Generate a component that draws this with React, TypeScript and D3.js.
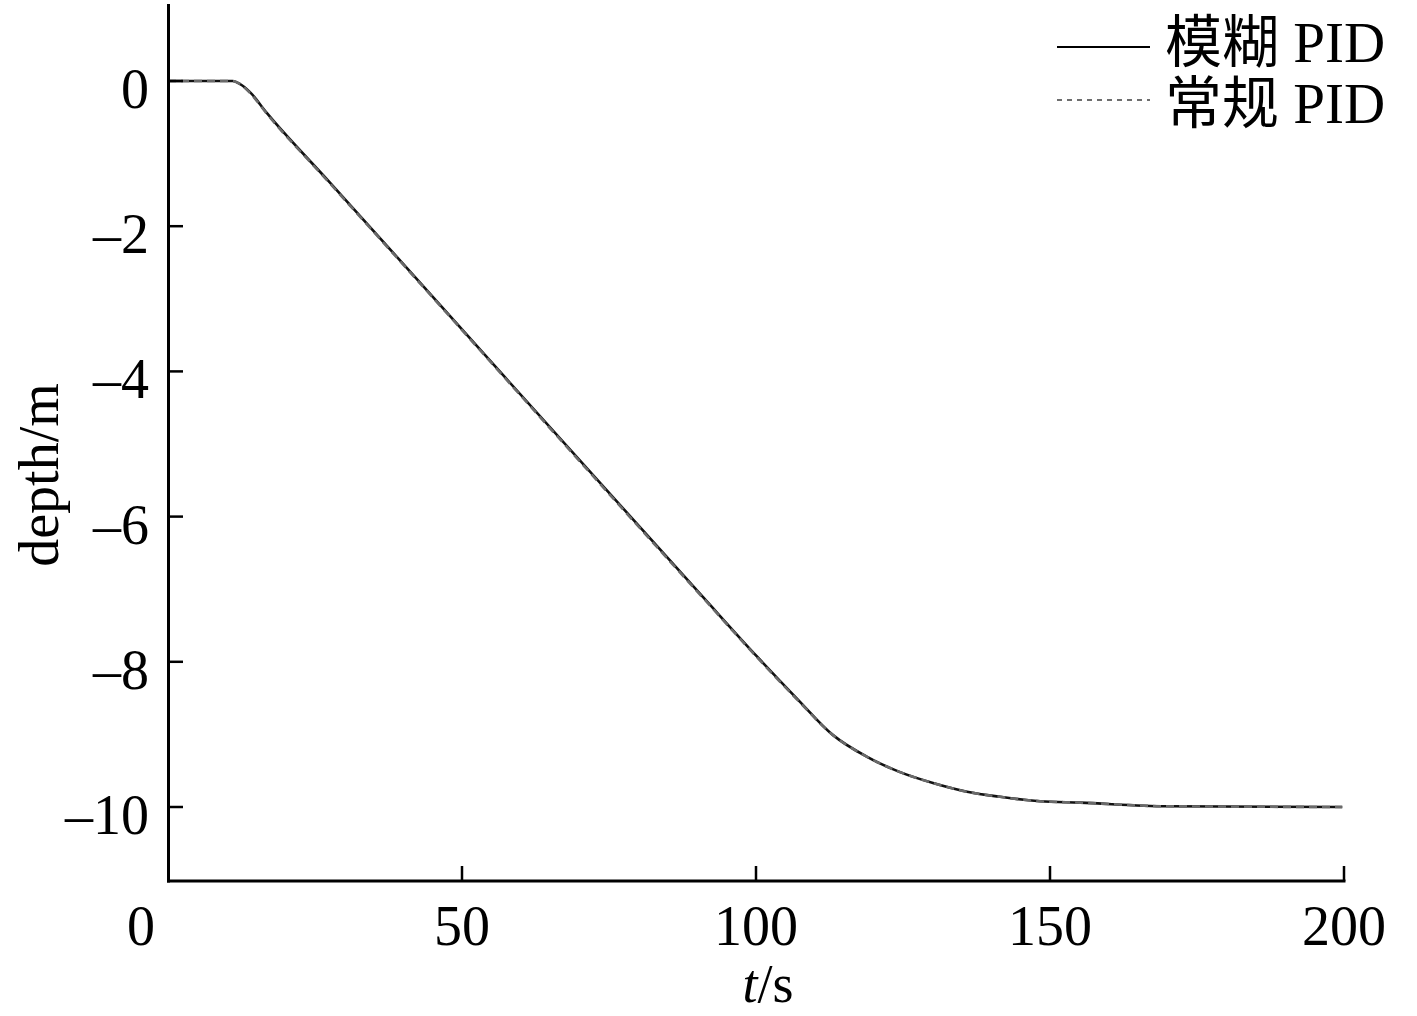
import React from "react";
import * as d3 from "d3";

const timeFuzzy = [0, 11.0, 12.2, 13.9, 16.8, 27.2, 42.9, 50.0, 57.3, 91.0, 100.2, 107.0, 113.1, 118.9, 124.5, 130.1, 135.9, 141.5, 148.3, 155.1, 169.9, 199.7];
const depthFuzzy = [0, 0, -0.04, -0.15, -0.44, -1.37, -2.78, -3.42, -4.08, -7.11, -7.93, -8.51, -9.01, -9.31, -9.52, -9.67, -9.79, -9.86, -9.92, -9.94, -9.99, -10.0];
const timeConv = [0, 11.0, 12.2, 13.9, 16.8, 27.2, 42.9, 50.0, 57.3, 91.0, 100.2, 107.0, 113.1, 118.9, 124.5, 130.1, 135.9, 141.5, 148.3, 155.1, 169.9, 199.7];
const depthConv = [0, 0, -0.04, -0.16, -0.45, -1.38, -2.79, -3.43, -4.09, -7.12, -7.94, -8.52, -9.01, -9.31, -9.52, -9.67, -9.79, -9.86, -9.92, -9.94, -9.99, -10.0];
const xTicks = [0, 50, 100, 150, 200];
const yTicks = [0, -2, -4, -6, -8, -10];
const legendLabels = ["模糊 PID", "常规 PID"];

const FONT = "'Liberation Serif', 'Times New Roman', 'Noto Sans CJK SC', serif";

export default function App() {
  const W = 1417, H = 1016;
  const x = d3.scaleLinear().domain([0, 200]).range([168, 1344]);
  const y = d3.scaleLinear().domain([0, -10]).range([81, 807]);
  const yTop = 4, yBot = 881;

  const line = d3
    .line<[number, number]>()
    .x((d) => x(d[0]))
    .y((d) => y(d[1]))
    .curve(d3.curveMonotoneX);

  const fuzzy = timeFuzzy.map((t, i) => [t, depthFuzzy[i]] as [number, number]);
  const conv = timeConv.map((t, i) => [t, depthConv[i]] as [number, number]);

  return (
    <svg width={W} height={H} style={{ position: "absolute", left: 0, top: 0, background: "#fff" }} fontFamily={FONT}>
      <rect x={0} y={0} width={W} height={H} fill="#fff" />
      {/* curves */}
      <path d={line(fuzzy) || ""} fill="none" stroke="#111" strokeWidth={2.6} />
      <path d={line(conv) || ""} fill="none" stroke="#6a6a6a" strokeWidth={2.6} strokeDasharray="8 5" />
      {/* axes */}
      <line x1={168.5} x2={168.5} y1={yTop} y2={yBot + 1.5} stroke="#000" strokeWidth={3} />
      <line x1={167} x2={1345.5} y1={yBot} y2={yBot} stroke="#000" strokeWidth={3} />
      {xTicks.map((t) => (
        <g key={"x" + t}>
          {t !== 0 && <line x1={x(t)} x2={x(t)} y1={yBot} y2={yBot - 15} stroke="#000" strokeWidth={2.5} />}
          <text x={t === 0 ? x(t) - 27 : x(t)} y={945} fontSize={56} textAnchor="middle" fill="#000">
            {t}
          </text>
        </g>
      ))}
      {yTicks.map((v) => (
        <g key={"y" + v}>
          <line x1={168} x2={183} y1={y(v)} y2={y(v)} stroke="#000" strokeWidth={2.5} />
          <text x={149} y={y(v) + 27} fontSize={56} textAnchor="end" fill="#000">
            {v === 0 ? "0" : "–" + Math.abs(v)}
          </text>
        </g>
      ))}
      {/* axis titles */}
      <text x={768} y={1002} fontSize={54} textAnchor="middle" fill="#000">
        <tspan fontStyle="italic">t</tspan>/s
      </text>
      <text transform="translate(58,475) rotate(-90)" fontSize={56} textAnchor="middle" fill="#000">
        depth/m
      </text>
      {/* legend */}
      <line x1={1057} x2={1150} y1={47} y2={47} stroke="#000" strokeWidth={2.2} />
      <text x={1165} y={62} fontSize={57} fill="#000">{legendLabels[0]}</text>
      <line x1={1057} x2={1150} y1={100} y2={100} stroke="#6e6e6e" strokeWidth={2.2} strokeDasharray="5 5" />
      <text x={1165} y={123} fontSize={57} fill="#000">{legendLabels[1]}</text>
    </svg>
  );
}
